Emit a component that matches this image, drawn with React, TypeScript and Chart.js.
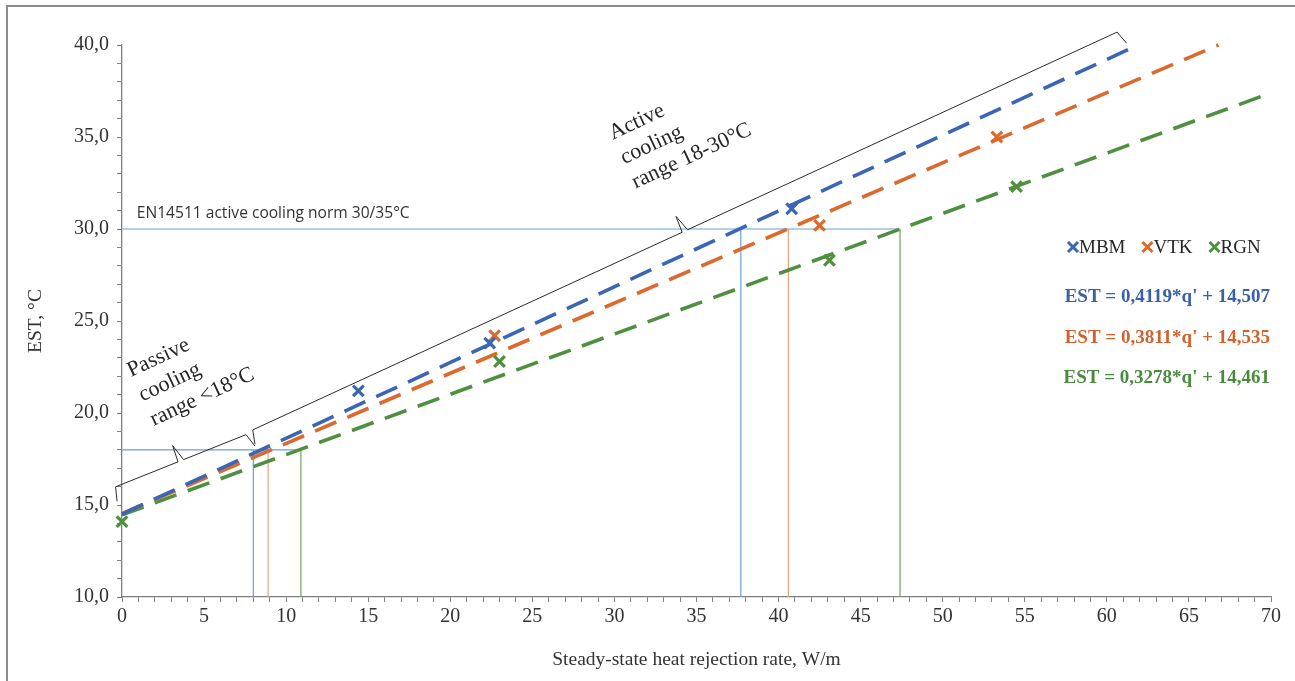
import React, { useEffect, useRef } from 'react';
import { Chart, registerables } from 'chart.js';

Chart.register(...registerables);

// ---------- data ----------
const seriesNames = ['MBM', 'VTK', 'RGN'];
const seriesColors = ['#3A66B3', '#DB6A2E', '#4E9040'];
const equationColors = ['#3A60A8', '#D0622E', '#4A8A3C'];
const refColors = ['#6A9FD4', '#E6A27A', '#6FA35E'];

const mbmX = [14.4, 22.4, 40.8];
const mbmY = [21.2, 23.8, 31.1];
const vtkX = [22.7, 42.5, 53.3];
const vtkY = [24.2, 30.2, 35.0];
const rgnX = [0, 23.0, 43.1, 54.5];
const rgnY = [14.1, 22.8, 28.3, 32.3];

const trendStartX = [0, 0, 0];
const trendStartY = [14.507, 14.535, 14.461];
const trendEndX = [61.9, 66.8, 70];
const trendEndY = [40, 40, 37.4];

const equations = [
  "EST = 0,4119*q' + 14,507",
  "EST = 0,3811*q' + 14,535",
  "EST = 0,3278*q' + 14,461",
];

const passiveLimitY = 18;
const passiveLimitX = [8.0, 8.9, 10.9];
const activeLimitY = 30;
const activeLimitX = [37.7, 40.6, 47.4];
const axisMinY = 10;

const xMin = 0, xMax = 70, yMin = 10, yMax = 40;

const passiveBrace = [[-0.3, 15.2], [8.1, 18.2]];
const activeBrace = [[8.1, 18.3], [61.2, 40.1]];
const passiveText = ['Passive', 'cooling', 'range <18°C'];
const passiveTextAt = [0.55, 21.95];
const activeText = ['Active', 'cooling', 'range 18-30°C'];
const activeTextAt = [29.9, 34.85];
const normText = 'EN14511 active cooling norm 30/35°C';
const normTextAt = [0.9, 30.6];

const xTitle = 'Steady-state heat rejection rate, W/m';
const yTitle = 'EST, °C';

const SERIF = '"Liberation Serif", "DejaVu Serif", serif';

function App() {
  const ref = useRef<HTMLCanvasElement | null>(null);

  useEffect(() => {
    const canvas = ref.current;
    if (!canvas) return;

    const xs = [mbmX, vtkX, rgnX];
    const ys = [mbmY, vtkY, rgnY];

    const datasets: any[] = [];
    // markers
    for (let i = 0; i < 3; i++) {
      datasets.push({
        label: seriesNames[i],
        data: xs[i].map((x, k) => ({ x, y: ys[i][k] })),
        pointStyle: 'crossRot',
        pointRadius: 7.5,
        pointBorderWidth: 3.2,
        borderColor: seriesColors[i],
        backgroundColor: seriesColors[i],
        showLine: false,
        clip: false,
      });
    }
    // trend lines
    for (let i = 0; i < 3; i++) {
      datasets.push({
        label: seriesNames[i] + ' trend',
        data: [
          { x: trendStartX[i], y: trendStartY[i] },
          { x: trendEndX[i], y: trendEndY[i] },
        ],
        showLine: true,
        borderColor: seriesColors[i],
        borderWidth: 3.6,
        borderDash: [23, 12],
        borderCapStyle: 'butt',
        pointRadius: 0,
        clip: false,
      });
    }
    // reference lines
    const refLine = (pts: number[][], color: string) => ({
      label: 'ref',
      data: pts.map(([x, y]) => ({ x, y })),
      showLine: true,
      borderColor: color,
      borderWidth: 1.2,
      pointRadius: 0,
      clip: false,
    });
    datasets.push(refLine([[0, activeLimitY], [activeLimitX[2], activeLimitY]], refColors[0]));
    datasets.push(refLine([[0, passiveLimitY], [passiveLimitX[2], passiveLimitY]], refColors[0]));
    for (let i = 0; i < 3; i++) {
      datasets.push(refLine([[activeLimitX[i], axisMinY], [activeLimitX[i], activeLimitY]], refColors[i]));
      datasets.push(refLine([[passiveLimitX[i], axisMinY], [passiveLimitX[i], passiveLimitY]], refColors[i]));
    }

    const annotations = {
      id: 'annotations',
      afterDraw(chart: any) {
        const ctx = chart.ctx as CanvasRenderingContext2D;
        const sx = chart.scales.x;
        const sy = chart.scales.y;
        const px = (v: number) => sx.getPixelForValue(v);
        const py = (v: number) => sy.getPixelForValue(v);

        ctx.save();
        // frame (left and top)
        ctx.strokeStyle = '#8C8C8C';
        ctx.lineWidth = 2;
        ctx.beginPath();
        ctx.moveTo(7, 700);
        ctx.lineTo(7, 6);
        ctx.lineTo(1300, 6);
        ctx.stroke();

        // braces
        const brace = (b: number[][]) => {
          const ax = px(b[0][0]), ay = py(b[0][1]);
          const bx = px(b[1][0]), by = py(b[1][1]);
          const len = Math.hypot(bx - ax, by - ay);
          const ux = (bx - ax) / len, uy = (by - ay) / len;
          const nx = uy, ny = -ux;
          const h = 14, r = 4, sp = 17;
          const mx = (ax + bx) / 2 + nx * h, my = (ay + by) / 2 + ny * h;
          ctx.beginPath();
          ctx.moveTo(ax, ay);
          ctx.lineTo(ax + nx * h + ux * r, ay + ny * h + uy * r);
          ctx.lineTo(mx - ux * 3, my - uy * 3);
          ctx.lineTo(mx + nx * sp - ux * 2, my + ny * sp - uy * 2);
          ctx.lineTo(mx + ux * 3, my + uy * 3);
          ctx.lineTo(bx + nx * h - ux * r, by + ny * h - uy * r);
          ctx.lineTo(bx, by);
          ctx.stroke();
        };
        ctx.strokeStyle = '#2B2B2B';
        ctx.lineWidth = 1;
        brace(passiveBrace);
        brace(activeBrace);

        // rotated labels
        const rotated = (lines: string[], at: number[]) => {
          ctx.save();
          ctx.translate(px(at[0]), py(at[1]));
          ctx.rotate(-25 * Math.PI / 180);
          ctx.font = `22px ${SERIF}`;
          ctx.fillStyle = '#262626';
          ctx.textAlign = 'left';
          ctx.textBaseline = 'alphabetic';
          lines.forEach((l, i) => ctx.fillText(l, 0, i * 27));
          ctx.restore();
        };
        rotated(passiveText, passiveTextAt);
        rotated(activeText, activeTextAt);

        // norm label
        ctx.font = '16px "Open Sans", "Noto Sans", sans-serif';
        const w = ctx.measureText(normText).width;
        const target = 273;
        const fs = 16 * target / w;
        ctx.font = `${fs.toFixed(2)}px "Open Sans", "Noto Sans", sans-serif`;
        ctx.fillStyle = '#333333';
        ctx.textAlign = 'left';
        ctx.textBaseline = 'alphabetic';
        ctx.fillText(normText, px(normTextAt[0]), py(normTextAt[1]));

        // legend
        ctx.font = `19px ${SERIF}`;
        ctx.textBaseline = 'middle';
        let lx = 1068;
        const ly = 247;
        for (let i = 0; i < 3; i++) {
          const c = seriesColors[i];
          ctx.strokeStyle = c;
          ctx.lineWidth = 3;
          const cx = lx + 5, s = 5;
          ctx.beginPath();
          ctx.moveTo(cx - s, ly - s); ctx.lineTo(cx + s, ly + s);
          ctx.moveTo(cx + s, ly - s); ctx.lineTo(cx - s, ly + s);
          ctx.stroke();
          ctx.fillStyle = '#262626';
          ctx.fillText(seriesNames[i], lx + 11, ly + 1);
          lx += 11 + ctx.measureText(seriesNames[i]).width + 17;
        }

        // equations
        ctx.font = `bold 19px ${SERIF}`;
        ctx.textAlign = 'right';
        const eqY = [297, 338, 378];
        for (let i = 0; i < 3; i++) {
          ctx.fillStyle = equationColors[i];
          ctx.fillText(equations[i], 1270, eqY[i]);
        }
        ctx.restore();
      },
    };

    const chart = new Chart(canvas, {
      type: 'scatter',
      data: { datasets },
      options: {
        animation: false,
        responsive: false,
        devicePixelRatio: 1,
        layout: { padding: { top: 45, right: 24, left: 0, bottom: 0 } },
        plugins: { legend: { display: false }, tooltip: { enabled: false } },
        scales: {
          x: {
            type: 'linear',
            min: xMin,
            max: xMax,
            afterFit: (s: any) => { s.height = 84; },
            ticks: {
              stepSize: 1,
              autoSkip: false,
              maxRotation: 0,
              padding: 3,
              color: '#333333',
              font: { family: SERIF, size: 20 },
              callback: (v: any) => (Number(v) % 5 === 0 ? String(v) : ''),
            },
            grid: { drawOnChartArea: false, drawTicks: true, tickLength: 5, tickColor: '#808080' },
            border: { color: '#7F7F7F', width: 1.3 },
            title: {
              display: true,
              text: xTitle,
              color: '#333333',
              font: { family: SERIF, size: 19.5 },
              padding: { top: 0, bottom: 9 },
            },
          },
          y: {
            type: 'linear',
            min: yMin,
            max: yMax,
            afterFit: (s: any) => { s.width = 122; },
            ticks: {
              stepSize: 1,
              autoSkip: false,
              padding: 8,
              color: '#333333',
              font: { family: SERIF, size: 20 },
              callback: (v: any) => (Number(v) % 5 === 0 ? Number(v).toFixed(1).replace('.', ',') : ''),
            },
            grid: { drawOnChartArea: false, drawTicks: true, tickLength: 5, tickColor: '#808080' },
            border: { color: '#7F7F7F', width: 1.3 },
            title: {
              display: true,
              text: yTitle,
              color: '#333333',
              font: { family: SERIF, size: 19.5 },
              padding: { top: 24, bottom: 0 },
            },
          },
        },
      },
      plugins: [annotations],
    } as any);

    return () => chart.destroy();
  }, []);

  return (
    <div style={{ position: 'absolute', left: 0, top: 0, width: 1295, height: 681, background: '#ffffff' }}>
      <canvas ref={ref} width={1295} height={681} style={{ display: 'block' }} />
    </div>
  );
}

export default App;
